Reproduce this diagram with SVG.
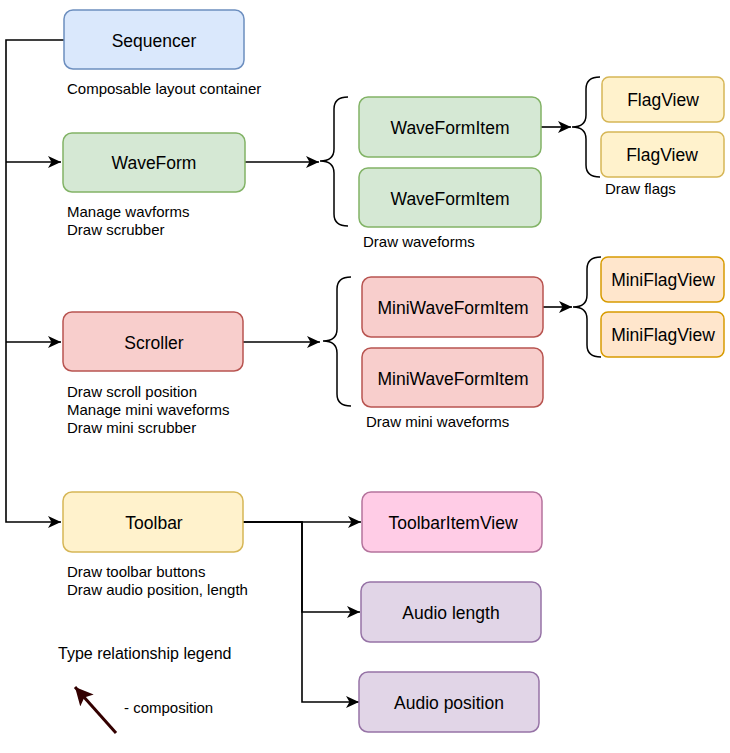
<svg xmlns="http://www.w3.org/2000/svg" width="730" height="753" viewBox="0 0 730 753">
<defs>
<marker id="arr" markerUnits="userSpaceOnUse" markerWidth="14" markerHeight="12" refX="13" refY="6" orient="auto">
<path d="M0,0 L13,6 L0,12 L3.5,6 Z" fill="#000"/>
</marker>
<marker id="arrL" markerUnits="userSpaceOnUse" markerWidth="20" markerHeight="18" refX="18" refY="9" orient="auto">
<path d="M0,0 L18,9 L0,18 L4,9 Z" fill="#330000"/>
</marker>
</defs>
<style>
.lbl{font-family:"Liberation Sans",Arial,sans-serif;font-size:17.5px;fill:#000;text-anchor:middle}
.desc{font-family:"Liberation Sans",Arial,sans-serif;font-size:15px;fill:#000}
.leg{font-family:"Liberation Sans",Arial,sans-serif;font-size:16px;fill:#000}
.blue{fill:#dae8fc;stroke:#6c8ebf;stroke-width:1.5}
.green{fill:#d5e8d4;stroke:#82b366;stroke-width:1.5}
.red{fill:#f8cecc;stroke:#b85450;stroke-width:1.5}
.yellow{fill:#fff2cc;stroke:#d6b656;stroke-width:1.5}
.orange{fill:#ffe6cc;stroke:#d79b00;stroke-width:1.5}
.pink{fill:#ffcce6;stroke:#b5739d;stroke-width:1.5}
.purple{fill:#e1d5e7;stroke:#9673a6;stroke-width:1.5}
.edge{fill:none;stroke:#000;stroke-width:1.6}
.brace{fill:none;stroke:#000;stroke-width:1.5}
</style>
<g id="connectors">
<path class="edge" d="M64,40 H6 V522 H61" marker-end="url(#arr)"/>
<path class="edge" d="M6,162 H61" marker-end="url(#arr)"/>
<path class="edge" d="M6,342 H61" marker-end="url(#arr)"/>
<path class="edge" d="M245,162 H319" marker-end="url(#arr)"/>
<path class="edge" d="M541,127 H571" marker-end="url(#arr)"/>
<path class="edge" d="M243,342 H320" marker-end="url(#arr)"/>
<path class="edge" d="M543,307 H572" marker-end="url(#arr)"/>
<path class="edge" d="M243,522 H302 H361" marker-end="url(#arr)"/>
<path class="edge" d="M243,522 H302 V612 H360" marker-end="url(#arr)"/>
<path class="edge" d="M243,522 H302 V702 H359" marker-end="url(#arr)"/>
<path class="brace" d="M348,97 Q334,97 334,109 L334,149 Q334,161 320,161 Q334,161 334,173 L334,214 Q334,226 348,226"/>
<path class="brace" d="M600,77 Q586,77 586,89 L586,115 Q586,127 572,127 Q586,127 586,139 L586,165 Q586,177 600,177"/>
<path class="brace" d="M351,277 Q337,277 337,289 L337,329 Q337,341 323,341 Q337,341 337,353 L337,394 Q337,406 351,406"/>
<path class="brace" d="M601,257 Q587,257 587,269 L587,295 Q587,307 573,307 Q587,307 587,319 L587,345 Q587,357 601,357"/>
</g>
<g id="sequencer"><rect class="blue" x="64" y="10" width="180" height="59" rx="9"/><text class="lbl" x="154" y="47">Sequencer</text></g>
<text class="desc" x="67" y="94">Composable layout container</text>
<g id="waveform"><rect class="green" x="63" y="133" width="182" height="59" rx="9"/><text class="lbl" x="154" y="169">WaveForm</text></g>
<text class="desc" x="67" y="217">Manage wavforms</text>
<text class="desc" x="67" y="235">Draw scrubber</text>
<g id="waveformitem1"><rect class="green" x="359" y="97" width="182" height="60" rx="9"/><text class="lbl" x="450" y="134">WaveFormItem</text></g>
<g id="waveformitem2"><rect class="green" x="359" y="168" width="182" height="59" rx="9"/><text class="lbl" x="450" y="205">WaveFormItem</text></g>
<text class="desc" x="363" y="247">Draw waveforms</text>
<g id="flagview1"><rect class="yellow" x="602" y="77" width="122" height="45" rx="7"/><text class="lbl" x="663" y="106">FlagView</text></g>
<g id="flagview2"><rect class="yellow" x="601" y="132" width="123" height="45" rx="7"/><text class="lbl" x="662" y="161">FlagView</text></g>
<text class="desc" x="605" y="194">Draw flags</text>
<g id="scroller"><rect class="red" x="63" y="312" width="180" height="59" rx="9"/><text class="lbl" x="154" y="349">Scroller</text></g>
<text class="desc" x="67" y="397">Draw scroll position</text>
<text class="desc" x="67" y="415">Manage mini waveforms</text>
<text class="desc" x="67" y="433">Draw mini scrubber</text>
<g id="miniwaveformitem1"><rect class="red" x="362" y="277" width="181" height="60" rx="9"/><text class="lbl" x="453" y="314">MiniWaveFormItem</text></g>
<g id="miniwaveformitem2"><rect class="red" x="362" y="348" width="181" height="59" rx="9"/><text class="lbl" x="453" y="385">MiniWaveFormItem</text></g>
<text class="desc" x="366" y="427">Draw mini waveforms</text>
<g id="miniflagview1"><rect class="orange" x="601" y="257" width="123" height="45" rx="7"/><text class="lbl" x="663" y="286">MiniFlagView</text></g>
<g id="miniflagview2"><rect class="orange" x="601" y="312" width="123" height="45" rx="7"/><text class="lbl" x="663" y="341">MiniFlagView</text></g>
<g id="toolbar"><rect class="yellow" x="63" y="492" width="180" height="60" rx="9"/><text class="lbl" x="154" y="529">Toolbar</text></g>
<text class="desc" x="67" y="577">Draw toolbar buttons</text>
<text class="desc" x="67" y="595">Draw audio position, length</text>
<g id="toolbaritemview"><rect class="pink" x="362" y="492" width="180" height="60" rx="9"/><text class="lbl" x="453" y="529">ToolbarItemView</text></g>
<g id="audiolength"><rect class="purple" x="361" y="582" width="180" height="60" rx="9"/><text class="lbl" x="451" y="619">Audio length</text></g>
<g id="audioposition"><rect class="purple" x="359" y="672" width="180" height="60" rx="9"/><text class="lbl" x="449" y="709">Audio position</text></g>
<text class="leg" x="58" y="659">Type relationship legend</text>
<g id="legend-arrow"><path d="M116,733 L75,687" stroke="#330000" stroke-width="3" fill="none" marker-end="url(#arrL)"/></g>
<text class="desc" x="124" y="713">- composition</text>
</svg>
